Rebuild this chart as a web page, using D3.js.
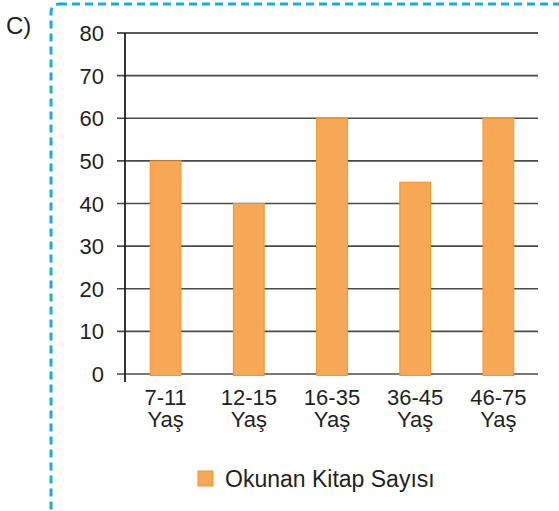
<!DOCTYPE html>
<html>
<head>
<meta charset="utf-8">
<script src="https://cdnjs.cloudflare.com/ajax/libs/d3/7.8.5/d3.min.js"></script>
<style>
  body { margin: 0; background: #fff; }
  text { font-family: "Liberation Sans", Arial, sans-serif; fill: #231f20; }
</style>
</head>
<body>
<div id="chart"></div>
<script>
// chart data
var categories = ["7-11", "12-15", "16-35", "36-45", "46-75"];
var values = [50, 40, 60, 45, 60];
var yTicks = [0, 10, 20, 30, 40, 50, 60, 70, 80];
var seriesName = "Okunan Kitap Sayısı";
var suffix = "Yaş";

var width = 559, height = 511;
var svg = d3.select("#chart").append("svg")
    .attr("width", width)
    .attr("height", height);

// dashed frame, runs past the right and bottom edges
svg.append("rect")
    .attr("x", 51).attr("y", 4)
    .attr("width", 560).attr("height", 560)
    .attr("rx", 8).attr("ry", 8)
    .attr("fill", "none")
    .attr("stroke", "#12aee8")
    .attr("stroke-width", 3)
    .attr("stroke-dasharray", "8,5");

svg.append("text")
    .attr("x", 6).attr("y", 34)
    .attr("font-size", 24)
    .text("C)");

var x = d3.scaleBand()
    .domain(categories)
    .range([124, 540])
    .paddingInner(0.63)
    .paddingOuter(0.315);

var y = d3.scaleLinear()
    .domain([0, 80])
    .range([374, 33]);

// gridlines
svg.append("g").selectAll("line")
    .data(yTicks)
    .enter().append("line")
    .attr("x1", 117).attr("x2", 538)
    .attr("y1", function(d){ return y(d); })
    .attr("y2", function(d){ return y(d); })
    .attr("stroke", function(d){ return d == 80 ? "#222" : "#4a4a4a"; })
    .attr("stroke-width", 1.6);

// bars
svg.append("g").selectAll("rect")
    .data(values)
    .enter().append("rect")
    .attr("x", function(d,i){ return x(categories[i]); })
    .attr("y", function(d){ return y(d); })
    .attr("width", x.bandwidth())
    .attr("height", function(d){ return y(0) - y(d) + 1.5; })
    .attr("fill", "#f7a857")
    .attr("stroke", "#f7931e")
    .attr("stroke-width", 1);

// y axis line
svg.append("line")
    .attr("x1", 125).attr("x2", 125)
    .attr("y1", y(80)).attr("y2", 382)
    .attr("stroke", "#231f20")
    .attr("stroke-width", 1.8);

// y tick labels
svg.append("g").selectAll("text")
    .data(yTicks)
    .enter().append("text")
    .attr("x", 104)
    .attr("y", function(d){ return y(d) + 8; })
    .attr("text-anchor", "end")
    .attr("font-size", 22)
    .text(function(d){ return d; });

// category labels, two lines each
var labels = svg.append("g").selectAll("text")
    .data(categories)
    .enter().append("text")
    .attr("text-anchor", "middle")
    .attr("font-size", 22);
labels.append("tspan")
    .attr("x", function(d){ return x(d) + x.bandwidth() / 2; })
    .attr("y", 405)
    .text(function(d){ return d; });
labels.append("tspan")
    .attr("x", function(d){ return x(d) + x.bandwidth() / 2; })
    .attr("y", 427)
    .text(suffix);

// legend
svg.append("rect")
    .attr("x", 198).attr("y", 471)
    .attr("width", 15).attr("height", 15)
    .attr("fill", "#f7a857")
    .attr("stroke", "#f7931e")
    .attr("stroke-width", 1);
svg.append("text")
    .attr("x", 225).attr("y", 487)
    .attr("font-size", 23)
    .text(seriesName);
</script>
</body>
</html>
